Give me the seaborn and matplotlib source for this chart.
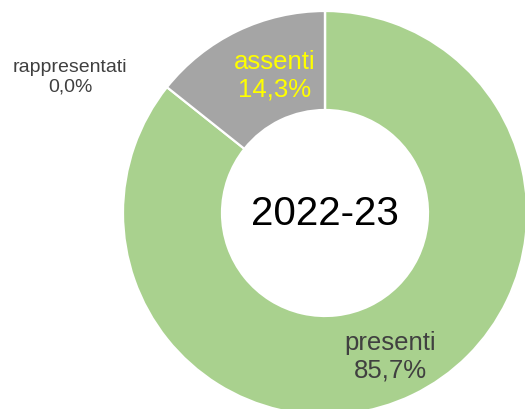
import matplotlib
matplotlib.use('Agg')
import matplotlib.pyplot as plt
import seaborn as sns

categorie = ['presenti', 'assenti', 'rappresentati']
percentuali = [85.7, 14.3, 0.0]
colori = ['#A9D18E', '#A5A5A5', '#5B9BD5']
anno = '2022-23'

sns.set_theme(style='white')
narrow = ['Liberation Sans Narrow', 'Liberation Sans', 'DejaVu Sans']

fig = plt.figure(figsize=(5.25, 4.1), dpi=100)
ax = fig.add_axes([0, 0, 1, 1])

# 1 unità = 1 pixel
ax.pie(percentuali, colors=colori, startangle=90, counterclock=False,
       center=(325, 196), radius=202,
       wedgeprops=dict(width=99, edgecolor='white', linewidth=1.6))
ax.set_xlim(0, 525)
ax.set_ylim(0, 410)
ax.set_aspect('equal')
ax.axis('off')

def etichetta(nome, val):
    return f"{nome}\n{val:.1f}".replace('.', ',') + '%'

pos_etichette = [(390, 53), (275, 334), (70, 333)]
dim_testo = [18.5, 18.5, 14]
col_testo = ['#404040', '#FFFF00', '#404040']
for nome, val, (x, y), s, c in zip(categorie, percentuali, pos_etichette, dim_testo, col_testo):
    ax.text(x, y, etichetta(nome, val), ha='center', va='center', fontsize=s,
            color=c, family=narrow, linespacing=1.2)

ax.text(325, 196, anno, ha='center', va='center', fontsize=29, color='black',
        family=['Liberation Sans', 'DejaVu Sans'])

plt.savefig('out.png', dpi=100)
